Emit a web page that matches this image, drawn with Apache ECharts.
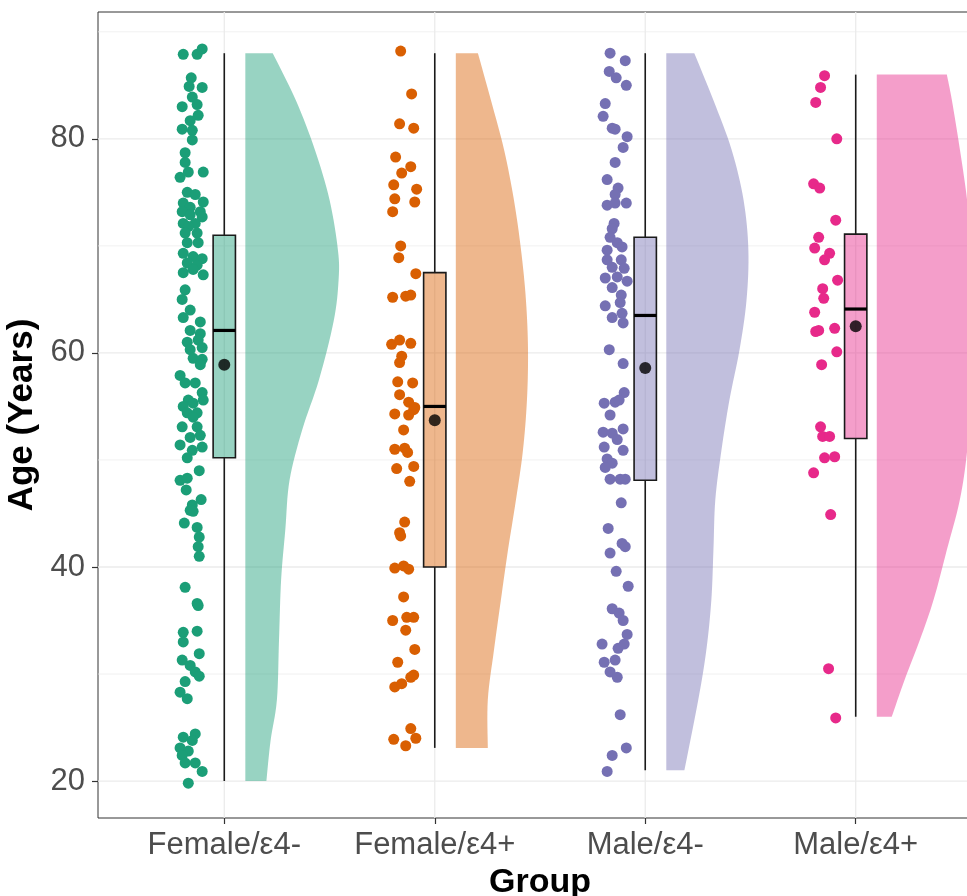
<!DOCTYPE html>
<html><head><meta charset="utf-8">
<script src="https://cdn.jsdelivr.net/npm/echarts@6/dist/echarts.min.js"></script>
<style>html,body{margin:0;padding:0;background:#fff;overflow:hidden}#c{width:967px;height:896px}</style>
</head><body><div id="c"></div>
<script>
const categories = ['Female/ε4-', 'Female/ε4+', 'Male/ε4-', 'Male/ε4+'];
const colors = ['#1B9E77', '#D95F02', '#7570B3', '#E7298A'];
const xTitle = 'Group';
const yTitle = 'Age (Years)';
const yTickValues = [20, 40, 60, 80];
const yMinorGridValues = [30, 50, 70, 90];
const yMin = 16.55, yMax = 91.85;

// jittered points: [offset from category centre (category units), age]
const pointsFemaleNeg = [
[-0.195,87.9],[-0.129,87.9],[-0.105,88.4],[-0.157,85.7],[-0.167,84.9],[-0.105,84.8],[-0.152,83.9],[-0.2,83.0],[-0.129,83.2],[-0.124,82.2],[-0.162,81.7],[-0.2,80.9],[-0.152,80.8],[-0.152,79.9],[-0.186,78.7],[-0.186,77.8],[-0.1,76.9],[-0.21,76.4],[-0.171,76.9],[-0.176,75.0],[-0.138,74.8],[-0.1,74.1],[-0.195,74.0],[-0.162,73.6],[-0.114,73.2],[-0.2,73.2],[-0.162,72.9],[-0.105,72.7],[-0.195,72.1],[-0.138,72.1],[-0.171,71.8],
[-0.186,71.2],[-0.129,71.2],[-0.176,70.3],[-0.124,70.3],[-0.195,69.3],[-0.148,69.0],[-0.105,68.8],[-0.176,68.4],[-0.129,68.2],[-0.195,67.5],[-0.1,67.3],[-0.148,67.8],[-0.186,65.9],[-0.2,65.0],[-0.162,64.0],[-0.195,63.3],[-0.114,62.9],[-0.162,62.1],[-0.114,61.8],[-0.176,61.0],[-0.124,61.2],[-0.105,60.5],[-0.162,60.3],[-0.148,59.5],[-0.105,59.4],[-0.114,58.9],[-0.21,57.9],[-0.186,57.2],[-0.138,57.2],[-0.105,56.3],[-0.171,55.6],[-0.1,55.6],[-0.195,55.0],[-0.148,55.3],[-0.176,54.4],[-0.129,54.4],
[-0.148,54.0],[-0.2,53.1],[-0.129,53.1],[-0.114,52.3],[-0.162,52.1],[-0.21,51.4],[-0.105,51.2],[-0.152,50.9],[-0.176,50.2],[-0.119,49.0],[-0.21,48.1],[-0.176,48.3],[-0.181,47.2],[-0.11,46.3],[-0.152,45.8],[-0.162,45.3],[-0.148,45.2],[-0.19,44.1],[-0.129,43.7],[-0.119,42.8],[-0.124,41.9],[-0.119,41.0],[-0.186,38.1],[-0.129,36.6],
[-0.124,36.4],[-0.195,33.9],[-0.129,34.0],[-0.195,33.0],[-0.119,31.9],[-0.2,31.3],[-0.162,30.8],[-0.138,30.2],[-0.119,29.8],[-0.186,29.3],[-0.21,28.3],[-0.176,27.7],[-0.195,24.1],[-0.138,24.4],[-0.152,23.8],[-0.21,23.1],[-0.171,22.8],[-0.2,22.4],[-0.186,21.7],[-0.138,21.7],[-0.105,20.9],[-0.171,19.8]
];
const pointsFemalePos = [
[-0.162,88.2],[-0.110,84.2],[-0.167,81.4],[-0.100,81.0],[-0.186,78.3],[-0.114,77.4],[-0.157,76.8],[-0.195,75.7],[-0.086,75.3],[-0.190,74.4],[-0.095,74.1],[-0.200,73.2],[-0.162,70.0],[-0.171,68.9],[-0.090,67.4],[-0.200,65.2],[-0.138,65.3],[-0.114,65.4],[-0.205,60.8],[-0.167,61.2],[-0.114,60.9],[-0.157,59.7],[-0.167,59.1],[-0.176,57.3],[-0.105,57.2],[-0.167,56.1],[-0.124,55.4],[-0.095,54.9],
[-0.100,54.7],[-0.124,54.2],[-0.190,54.3],[-0.148,52.8],[-0.190,51.0],[-0.143,51.1],[-0.129,50.7],[-0.181,49.2],[-0.100,49.4],[-0.119,48.0],[-0.143,44.2],[-0.167,43.2],[-0.162,42.9],[-0.190,39.9],[-0.148,40.1],[-0.124,39.8],[-0.148,37.2],[-0.200,35.0],[-0.133,35.3],[-0.100,35.3],[-0.138,34.1],[-0.095,32.3],[-0.176,31.1],[-0.100,29.9],[-0.114,29.7],[-0.190,28.8],[-0.157,29.1],[-0.114,24.9],[-0.195,23.9],[-0.090,24.0],[-0.138,23.3]
];
const pointsMaleNeg = [
[-0.167,88.0],[-0.095,87.3],[-0.171,86.3],[-0.138,85.7],[-0.090,85.0],[-0.190,83.3],[-0.200,82.1],[-0.157,81.0],[-0.143,80.9],[-0.086,80.2],[-0.105,79.2],[-0.143,77.8],[-0.181,76.2],[-0.129,75.4],[-0.143,74.8],[-0.181,73.8],[-0.143,74.0],[-0.090,74.0],[-0.148,72.1],[-0.157,71.6],[-0.167,70.8],[-0.133,70.3],[-0.110,69.9],[-0.181,69.6],[-0.114,68.7],[-0.181,68.7],[-0.157,68.0],[-0.100,67.9],[-0.190,67.0],[-0.133,67.1],[-0.086,66.7],[-0.157,66.1],[-0.114,65.4],[-0.119,64.7],[-0.190,64.4],[-0.157,63.3],[-0.105,62.8],[-0.110,63.7],[-0.171,60.3],[-0.105,59.0],[-0.100,56.3],[-0.195,55.3],[-0.143,55.4],[-0.124,55.6],
[-0.167,54.2],[-0.200,52.6],[-0.157,52.5],[-0.105,52.9],[-0.133,51.9],[-0.195,51.2],[-0.105,50.9],[-0.181,50.1],[-0.157,49.7],[-0.190,49.3],[-0.167,48.2],[-0.119,48.2],[-0.095,48.2],[-0.114,46.0],[-0.176,43.6],[-0.110,42.2],[-0.095,41.9],[-0.167,41.3],[-0.138,39.6],[-0.081,38.2],[-0.157,36.1],[-0.124,35.7],[-0.105,35.0],[-0.086,33.7],[-0.205,32.8],[-0.129,32.4],[-0.100,32.8],[-0.195,31.1],[-0.143,31.3],[-0.167,30.2],[-0.133,29.7],[-0.119,26.2],[-0.090,23.1],[-0.157,22.4],[-0.181,20.9]
];
const pointsMalePos = [
[-0.148,85.9],[-0.167,84.8],[-0.190,83.4],[-0.090,80.0],[-0.200,75.8],[-0.171,75.4],[-0.095,72.4],[-0.176,70.8],[-0.195,69.8],[-0.124,69.3],[-0.148,68.7],[-0.086,66.8],[-0.157,66.0],[-0.152,65.1],[-0.195,63.8],[-0.190,62.0],[-0.176,62.1],[-0.100,62.3],[-0.090,60.1],[-0.162,58.9],[-0.167,53.1],[-0.157,52.2],[-0.124,52.2],[-0.148,50.2],[-0.100,50.3],[-0.200,48.8],[-0.119,44.9],[-0.129,30.5],[-0.095,25.9]
];
const pointGroups = [pointsFemaleNeg, pointsFemalePos, pointsMaleNeg, pointsMalePos];

// box statistics: [lower whisker, Q1, median, Q3, upper whisker]
const boxStats = [
  [20.0, 50.2, 62.1, 71.0, 88.0],
  [23.1, 40.0, 55.0, 67.5, 88.0],
  [21.0, 48.1, 63.5, 70.8, 88.0],
  [26.0, 52.0, 64.1, 71.1, 86.0]
];
const means = [58.9, 53.7, 58.6, 62.5];

// half-violin density profiles: [age, half-width in category units]
const violinFemaleNeg = [[88,0.13],[83.6,0.24],[79,0.33],[74.3,0.40],[69.6,0.44],[66.8,0.443],[63,0.42],[57.5,0.35],[52.8,0.27],[48.1,0.21],[43.5,0.19],[38.8,0.17],[33.2,0.16],[27.6,0.15],[23.8,0.12],[20,0.10]];
const violinFemalePos = [[88,0.105],[83.6,0.167],[79,0.229],[74.3,0.276],[69.6,0.310],[65,0.333],[60.3,0.343],[55.6,0.338],[50.9,0.319],[46.3,0.286],[41.6,0.248],[36.9,0.214],[32.2,0.181],[27.6,0.152],[23.1,0.152]];
const violinMaleNeg = [[88,0.133],[83.6,0.224],[79,0.310],[74.3,0.367],[69.6,0.390],[64.9,0.381],[60.3,0.348],[55.6,0.300],[50.9,0.262],[46.3,0.233],[41.6,0.224],[36.9,0.214],[32.2,0.190],[27.6,0.152],[21,0.086]];
const violinMalePos = [[86,0.333],[83.6,0.357],[79,0.395],[74.3,0.429],[69.6,0.45],[65,0.46],[60.3,0.45],[55.6,0.44],[51,0.43],[46.3,0.395],[41.6,0.333],[37,0.271],[33.2,0.205],[29.5,0.133],[26,0.071]];
const violins = [violinFemaleNeg, violinFemalePos, violinMaleNeg, violinMalePos];

const VIOLIN_GAP = 0.1, BOX_HALF = 0.053;

function rgba(hex, a) {
  const n = parseInt(hex.slice(1), 16);
  return 'rgba(' + (n >> 16) + ',' + ((n >> 8) & 255) + ',' + (n & 255) + ',' + a + ')';
}
function catmull(pts, steps) {
  const out = [];
  for (let i = 0; i < pts.length - 1; i++) {
    const p0 = pts[Math.max(0, i - 1)], p1 = pts[i], p2 = pts[i + 1], p3 = pts[Math.min(pts.length - 1, i + 2)];
    for (let s = 0; s < steps; s++) {
      const t = s / steps, t2 = t * t, t3 = t2 * t;
      out.push([0, 1].map(k => 0.5 * ((2 * p1[k]) + (-p0[k] + p2[k]) * t + (2 * p0[k] - 5 * p1[k] + 4 * p2[k] - p3[k]) * t2 + (-p0[k] + 3 * p1[k] - 3 * p2[k] + p3[k]) * t3)));
    }
  }
  out.push(pts[pts.length - 1]);
  return out;
}

const chart = echarts.init(document.getElementById('c'), null, { renderer: 'canvas', width: 967, height: 896 });
const series = [];

// gridlines
const gridDefs = [];
categories.forEach((c, i) => gridDefs.push(['v', i + 1, 1.3]));
yTickValues.forEach(v => gridDefs.push(['h', v, 1.3]));
yMinorGridValues.forEach(v => gridDefs.push(['h', v, 0.7]));
series.push({
  type: 'custom', z: 0, silent: true,
  data: gridDefs.map((d, i) => [i]),
  encode: { x: -1, y: -1 },
  renderItem: (params, api) => {
    const d = gridDefs[params.dataIndex];
    const a = d[0] === 'v' ? api.coord([d[1], yMin]) : api.coord([0.4, d[1]]);
    const b = d[0] === 'v' ? api.coord([d[1], yMax]) : api.coord([4.6, d[1]]);
    return { type: 'line', shape: { x1: a[0], y1: a[1], x2: b[0], y2: b[1] }, style: { stroke: '#EBEBEB', lineWidth: d[2] } };
  }
});

// violins
violins.forEach((prof, gi) => {
  series.push({
    type: 'custom', z: 2, silent: true,
    data: [[gi + 1]],
    encode: { x: 0, y: -1 },
    renderItem: (params, api) => {
      const c = gi + 1 + VIOLIN_GAP;
      const right = prof.map(p => api.coord([c + p[1], p[0]]));
      const smooth = catmull(right, 8);
      const top = prof[0][0], bot = prof[prof.length - 1][0];
      const pts = smooth.concat([api.coord([c, bot]), api.coord([c, top])]);
      return { type: 'polygon', shape: { points: pts }, style: { fill: rgba(colors[gi], 0.45), stroke: null } };
    }
  });
});

// boxplots
boxStats.forEach((b, gi) => {
  series.push({
    type: 'custom', z: 3, silent: true,
    data: [[gi + 1]],
    encode: { x: 0, y: -1 },
    renderItem: (params, api) => {
      const c = gi + 1;
      const pMin = api.coord([c, b[0]]), pQ1 = api.coord([c, b[1]]), pMed = api.coord([c, b[2]]), pQ3 = api.coord([c, b[3]]), pMax = api.coord([c, b[4]]);
      const l = api.coord([c - BOX_HALF, b[2]])[0], r = api.coord([c + BOX_HALF, b[2]])[0];
      const ls = { stroke: '#1a1a1a', lineWidth: 1.6 };
      return { type: 'group', children: [
        { type: 'line', shape: { x1: pMax[0], y1: pMax[1], x2: pQ3[0], y2: pQ3[1] }, style: ls },
        { type: 'line', shape: { x1: pQ1[0], y1: pQ1[1], x2: pMin[0], y2: pMin[1] }, style: ls },
        { type: 'rect', shape: { x: l, y: pQ3[1], width: r - l, height: pQ1[1] - pQ3[1] }, style: { fill: rgba(colors[gi], 0.45), stroke: '#1a1a1a', lineWidth: 1.6 } },
        { type: 'line', shape: { x1: l, y1: pMed[1], x2: r, y2: pMed[1] }, style: { stroke: '#000', lineWidth: 3.2 } }
      ] };
    }
  });
});

// jittered points
pointGroups.forEach((pts, gi) => {
  series.push({
    type: 'scatter', z: 4, silent: true,
    symbol: 'circle', symbolSize: 11,
    itemStyle: { color: colors[gi], opacity: 1 },
    data: pts.map(p => [gi + 1 + p[0], p[1]])
  });
});

// means
series.push({
  type: 'scatter', z: 5, silent: true, symbol: 'circle', symbolSize: 12,
  itemStyle: { color: '#000' },
  data: means.map((m, i) => [i + 1, m])
});

chart.setOption({
  animation: false,
  backgroundColor: '#fff',
  grid: { left: 98, top: 12, height: 806, width: 884, outerBoundsMode: 'none', containLabel: false, show: true, borderColor: '#333333', borderWidth: 1, backgroundColor: 'transparent' },
  xAxis: {
    type: 'value', min: 0.4, max: 4.6,
    name: xTitle, nameLocation: 'middle', nameGap: 47,
    nameTextStyle: { fontFamily: 'Liberation Sans', fontWeight: 'bold', fontSize: 34, color: '#000' },
    axisLine: { show: false },
    axisTick: { show: true, customValues: [1, 2, 3, 4], length: 6, lineStyle: { color: '#333', width: 1.2 } },
    axisLabel: { customValues: [1, 2, 3, 4], formatter: v => categories[Math.round(v) - 1] || '', fontFamily: 'Liberation Sans', fontSize: 31, color: '#4D4D4D', margin: 12 },
    splitLine: { show: false }
  },
  yAxis: {
    type: 'value', min: yMin, max: yMax,
    name: yTitle, nameLocation: 'middle', nameGap: 49, nameRotate: 90,
    nameTextStyle: { fontFamily: 'Liberation Sans', fontWeight: 'bold', fontSize: 35, color: '#000' },
    axisLine: { show: false },
    axisTick: { show: true, customValues: yTickValues, length: 6, lineStyle: { color: '#333', width: 1.2 } },
    axisLabel: { customValues: yTickValues, fontFamily: 'Liberation Sans', fontSize: 31, color: '#4D4D4D', margin: 13 },
    splitLine: { show: false }
  },
  series: series
});
</script></body></html>
